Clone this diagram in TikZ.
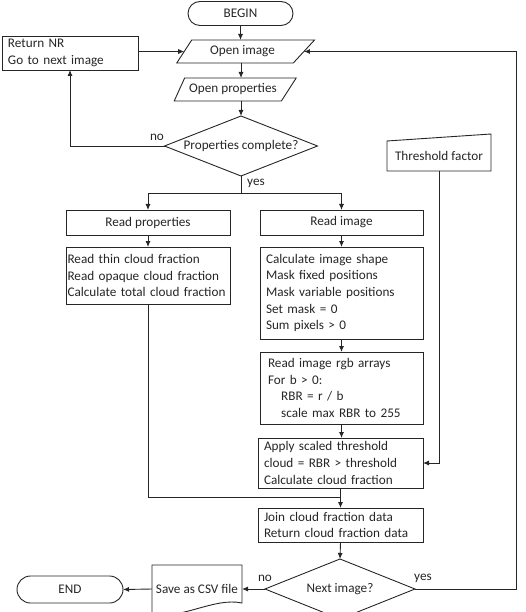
\documentclass[tikz,border=0pt]{standalone}
\usepackage{fontspec}
\setmainfont{Carlito}
\usetikzlibrary{shapes.geometric,shapes.misc,arrows.meta}
\begin{document}
\begin{tikzpicture}[x=1pt,y=-1pt,
  every node/.style={font=\fontsize{13.2}{16.6}\selectfont, text=black!85, inner sep=0pt, outer sep=0pt},
  line/.style={draw=black!85, line width=0.9pt},
  arr/.style={line, -{Latex[length=6pt,width=5pt]}},
  box/.style={line, rectangle, align=left},
  term/.style={line, rounded rectangle, minimum height=24pt},
  io/.style={line, trapezium, trapezium left angle=50, trapezium right angle=140, trapezium stretches=true, minimum height=23pt},
  dec/.style={line, diamond, minimum width=153pt, minimum height=60pt, aspect=2.5},
  lab/.style={font=\fontsize{13.2}{16.6}\selectfont}
]
\useasboundingbox (0,0) rectangle (525,612);
\clip (0,0) rectangle (525,612);

% nodes
\node[term, minimum width=105pt] (begin) at (240.5,13.5) {BEGIN};
\node[io, minimum width=139pt] (openimg) at (242.5,51.5) {Open image};
\node[io, minimum width=122pt] (openprop) at (233,89.5) {Open properties};
\node[dec] (props) at (241,146) {Properties complete?};
\node[box, minimum width=136pt, minimum height=34pt, text width=124pt] (ret) at (70,53) {Return NR\\Go to next image};

\node[minimum width=104pt, minimum height=30pt] (thr) at (439,156) {Threshold factor};
\draw[line] (thr.south west) -- (thr.south east) -- ([yshift=7pt]thr.north east) -- (thr.north west) -- cycle;

\node[box, minimum width=164pt, minimum height=25pt, align=center] (readprop) at (148,222.5) {Read properties};
\node[box, minimum width=163pt, minimum height=25pt, align=center] (readimg) at (341.5,222.5) {Read image};
\node[box, minimum width=164pt, minimum height=57pt, text width=161pt] (readthin) at (148,275.5) {Read thin cloud fraction\\Read opaque cloud fraction\\Calculate total cloud fraction};
\node[box, minimum width=163pt, minimum height=92pt, text width=151pt] (calcimg) at (341.5,293) {Calculate image shape\\Mask fixed positions\\Mask variable positions\\Set mask = 0\\Sum pixels > 0};
\node[box, minimum width=163pt, minimum height=72pt, text width=147pt] (rgb) at (341.5,388) {Read image rgb arrays\\For b > 0:\\\hspace*{1em}RBR = r / b\\\hspace*{1em}scale max RBR to 255};
\node[box, minimum width=165pt, minimum height=50pt, text width=153pt] (apply) at (340.5,463) {Apply scaled threshold\\cloud = RBR > threshold\\Calculate cloud fraction};
\node[box, minimum width=165pt, minimum height=34pt, text width=153pt] (join) at (340.5,525) {Join cloud fraction data\\Return cloud fraction data};
\node[dec, minimum width=150pt] (next) at (340,589) {Next image?};

\node[minimum width=90pt, minimum height=48pt] (csv) at (197,589) {Save as CSV file};
\draw[line] (152,618) -- (152,565) -- (242,565) -- (242,603) .. controls (214,597) and (182,620) .. (152,614);
\node[term, minimum width=106pt, minimum height=27pt] (end) at (70,589.5) {END};

% coordinates
\coordinate (split) at (241,193);
\coordinate (merge) at (340.5,497);
\coordinate (rloop) at (516,0);

% connectors
\draw[arr] (begin.south) -- (begin.south |- openimg.north);
\draw[arr] (props.north |- openimg.south) -- (props.north |- openprop.north);
\draw[arr] (props.north |- openprop.south) -- (props.north);
\draw[arr] (ret.east |- openimg.west) -- (openimg.west);
\draw[arr] (props.west) -| (ret.south);
\node[lab] (no1) at (157,137) {no};
\draw[line] (props.south) -- (split);
\draw[arr] (split) -| (readprop.north);
\draw[arr] (split) -| (readimg.north);
\node[lab] (yes1) at (256,183) {yes};
\draw[arr] (readprop) -- (readthin);
\draw[arr] (readimg) -- (calcimg);
\draw[arr] (calcimg) -- (rgb);
\draw[arr] (rgb.south) -- (rgb.south |- apply.north);
\draw[line] (readthin.south) |- (merge);
\draw[arr] (apply.south) -- (join.north);
\draw[arr] (thr.south) |- (apply.east);
\draw[arr] (join.south) -- (next.north);
\draw[arr] (next.west) -- (csv.east);
\draw[arr] (csv.west) -- (end.east);
\node[lab] (no2) at (265,578) {no};
\draw[arr] (next.east) -| (rloop |- openimg.east) -- (openimg.east);
\node[lab] (yes2) at (423,578) {yes};
\end{tikzpicture}
\end{document}
